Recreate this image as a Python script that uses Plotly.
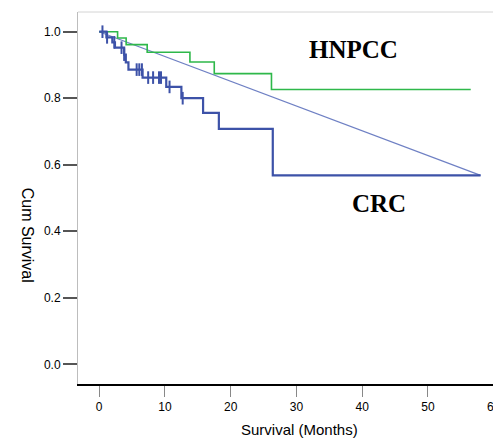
import plotly.graph_objects as go

# CRC (blue) Kaplan-Meier steps
crc_time = [0, 1.1, 2.0, 2.4, 3.8, 4.05, 4.45, 6.6, 10.2, 12.5, 15.8, 18.2, 26.4, 58.0]
crc_surv = [1.0, 0.983, 0.968, 0.952, 0.931, 0.908, 0.886, 0.862, 0.834, 0.800, 0.756, 0.708, 0.568, 0.568]
crc_cens_time = [0.5, 1.2, 2.3, 3.4, 3.8, 5.7, 6.1, 6.5, 7.45, 8.2, 9.1, 9.4, 10.7, 12.7]
crc_cens_surv = [1.0, 0.983, 0.968, 0.952, 0.931, 0.886, 0.886, 0.886, 0.862, 0.862, 0.862, 0.862, 0.834, 0.800]

# HNPCC (green) Kaplan-Meier steps
hnpcc_time = [0, 2.8, 4.1, 7.3, 13.8, 17.5, 26.2, 56.5]
hnpcc_surv = [1.0, 0.981, 0.961, 0.938, 0.909, 0.874, 0.826, 0.826]

# connector line (first to last CRC point)
diag_time = [0, 58.0]
diag_surv = [1.0, 0.568]

x_ticks = [0, 10, 20, 30, 40, 50, 60]
y_ticks = [0.0, 0.2, 0.4, 0.6, 0.8, 1.0]

BLUE = "#3d52a8"
GREEN = "#2eb84a"

fig = go.Figure()
fig.add_trace(go.Scatter(x=diag_time, y=diag_surv, mode="lines",
                         line=dict(color="#6f80c4", width=1.2), showlegend=False))
fig.add_trace(go.Scatter(x=hnpcc_time, y=hnpcc_surv, mode="lines",
                         line=dict(color=GREEN, width=1.6, shape="hv"), showlegend=False))
fig.add_trace(go.Scatter(x=crc_time, y=crc_surv, mode="lines",
                         line=dict(color=BLUE, width=2.2, shape="hv"), showlegend=False))
fig.add_trace(go.Scatter(x=crc_cens_time, y=crc_cens_surv, mode="markers",
                         marker=dict(symbol="line-ns", size=9,
                                     line=dict(color=BLUE, width=2)),
                         showlegend=False))

fig.add_annotation(x=38.6, y=0.946, xref="x", yref="y", text="<b>HNPCC</b>",
                   showarrow=False, font=dict(family="Liberation Serif", size=25, color="black"))
fig.add_annotation(x=42.6, y=0.483, xref="x", yref="y", text="<b>CRC</b>",
                   showarrow=False, font=dict(family="Liberation Serif", size=25, color="black"))

fig.add_annotation(x=-0.144, y=0.266, xref="paper", yref="paper", text="Cum Survival",
                   textangle=90, showarrow=False,
                   font=dict(family="Liberation Sans", size=16, color="black"))
fig.add_annotation(x=0.525, y=-0.15, xref="paper", yref="paper", text="Survival (Months)",
                   yanchor="bottom", showarrow=False,
                   font=dict(family="Liberation Sans", size=15, color="black"))

fig.add_shape(type="line", xref="paper", yref="paper", x0=0, x1=1, y0=1, y1=1,
              line=dict(color="#d4d4d4", width=1))

fig.update_layout(
    width=493, height=433,
    margin=dict(l=70, r=0, t=4, b=57),
    plot_bgcolor="white", paper_bgcolor="white",
    xaxis=dict(range=[-3.22, 60.8], tickvals=x_ticks, ticktext=[str(v) for v in x_ticks],
               showgrid=False, zeroline=False, showline=True, linecolor="black", linewidth=2,
               ticks="outside", ticklen=11, tickwidth=1, tickcolor="#888",
               ticklabeloverflow="allow",
               tickfont=dict(family="Liberation Sans", size=12, color="black")),
    yaxis=dict(range=[-0.0592, 1.0592], tickvals=y_ticks, ticktext=[f"{v:.1f}" for v in y_ticks],
               showgrid=False, zeroline=False, showline=True, linecolor="#bdbdbd", linewidth=1,
               ticks="outside", ticklen=14, tickwidth=2, tickcolor="#555",
               tickfont=dict(family="Liberation Sans", size=12, color="black")),
)

fig.write_html("out.html")
